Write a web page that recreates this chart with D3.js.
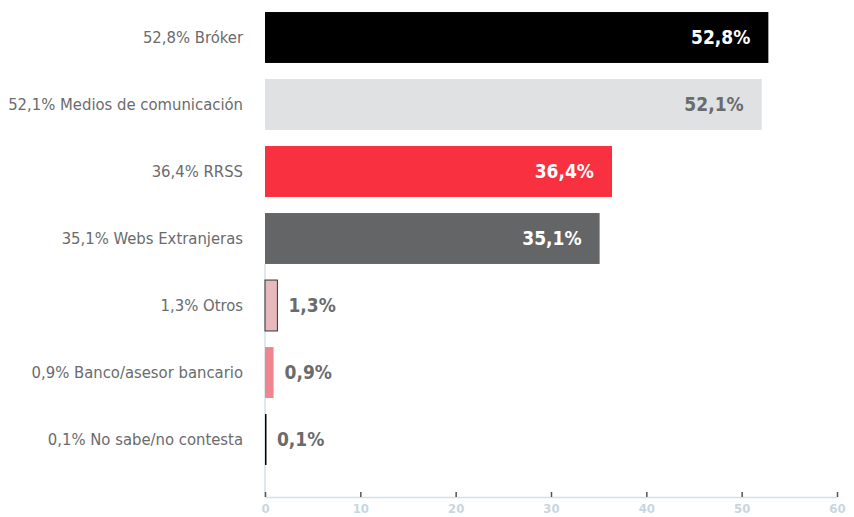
<!DOCTYPE html>
<html>
<head>
<meta charset="utf-8">
<script src="https://cdn.jsdelivr.net/npm/d3@7"></script>
<style>
    body { margin: 0; background: #fff; }
    svg { display: block; }
    .lbl { font-family: "DejaVu Sans Condensed", "DejaVu Sans", sans-serif; font-stretch: condensed; font-size: 16.5px; fill: #6a6b6d; }
    .val { font-family: "DejaVu Sans Condensed", "DejaVu Sans", sans-serif; font-stretch: condensed; font-size: 19px; font-weight: bold; }
    .x.axis text { font-family: "DejaVu Sans Condensed", "DejaVu Sans", sans-serif; font-stretch: condensed; font-size: 13px; font-weight: bold; fill: #c9d6df; }
</style>
</head>
<body>
<script>
var categories = ["Bróker", "Medios de comunicación", "RRSS", "Webs Extranjeras", "Otros", "Banco/asesor bancario", "No sabe/no contesta"];
var values = [52.8, 52.1, 36.4, 35.1, 1.3, 0.9, 0.1];
var colors = ["#000000", "#e0e1e3", "#f8303f", "#646567", "#e8b9ba", "#f1858f", "#000000"];
var labelColors = ["#ffffff", "#6a6b6d", "#ffffff", "#ffffff", "#6a6b6d", "#6a6b6d", "#6a6b6d"];
var xTicks = [0, 10, 20, 30, 40, 50, 60];

var width = 854, height = 517;
var left = 265, right = 837, axisY = 497;

function fmt(v) {
    return d3.format(".1f")(v).replace(".", ",") + "%";
}

var data = categories.map(function (c, i) {
    return { name: c, value: values[i], color: colors[i], labelColor: labelColors[i] };
});

var x = d3.scaleLinear().domain([0, 60]).range([left, right]);
var y = d3.scaleBand().domain(categories).range([4, 473]).paddingInner(0.24).paddingOuter(0.12);

var svg = d3.select("body").append("svg")
    .attr("width", width)
    .attr("height", height);

// vertical guide under the small bars
svg.append("line")
    .attr("x1", x(0)).attr("x2", x(0))
    .attr("y1", y(categories[3]) + y.bandwidth())
    .attr("y2", axisY)
    .attr("stroke", "#d3e0e8")
    .attr("stroke-width", 1.5);

var xAxis = svg.append("g")
    .attr("class", "x axis")
    .attr("transform", "translate(0," + axisY + ")")
    .call(d3.axisBottom(x).tickValues(xTicks).tickSize(0).tickPadding(7));
xAxis.select(".domain").attr("stroke", "#d3e0e8").attr("stroke-width", 1.5);
xAxis.selectAll(".tick").append("line")
    .attr("y1", -5).attr("y2", 0)
    .attr("stroke", "#555").attr("stroke-width", 1.5);

svg.selectAll(".bar")
    .data(data)
    .enter().append("rect")
    .attr("class", "bar")
    .attr("x", x(0))
    .attr("y", function (d) { return y(d.name); })
    .attr("width", function (d) { return Math.max(x(d.value) - x(0), 1.5); })
    .attr("height", y.bandwidth())
    .attr("fill", function (d) { return d.color; })
    .attr("stroke", function (d) { return d.name == "Otros" ? "#333" : "none"; })
    .attr("stroke-width", 1);

svg.selectAll(".lbl")
    .data(data)
    .enter().append("text")
    .attr("class", "lbl")
    .attr("x", x(0) - 22)
    .attr("y", function (d) { return y(d.name) + y.bandwidth() / 2; })
    .attr("dy", "0.35em")
    .attr("text-anchor", "end")
    .text(function (d) { return fmt(d.value) + " " + d.name; });

svg.selectAll(".val")
    .data(data)
    .enter().append("text")
    .attr("class", "val")
    .attr("x", function (d) { return d.value > 10 ? x(d.value) - 18 : x(d.value) + 11; })
    .attr("y", function (d) { return y(d.name) + y.bandwidth() / 2; })
    .attr("dy", "0.35em")
    .attr("text-anchor", function (d) { return d.value > 10 ? "end" : "start"; })
    .attr("fill", function (d) { return d.labelColor; })
    .text(function (d) { return fmt(d.value); });
</script>
</body>
</html>
